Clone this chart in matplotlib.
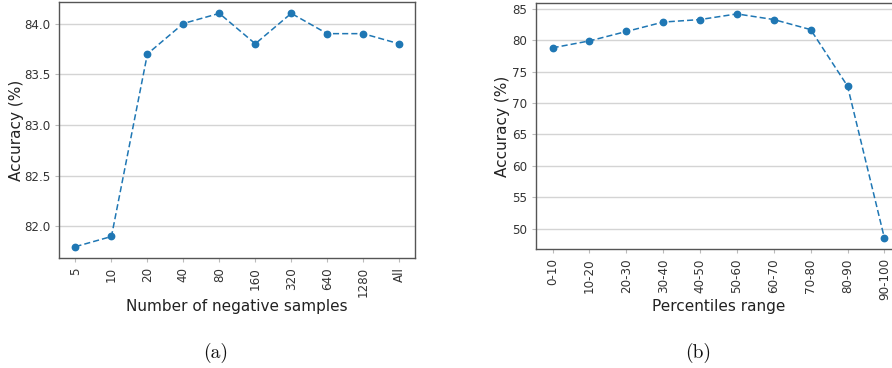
import matplotlib
matplotlib.use("Agg")
import matplotlib.pyplot as plt

neg_labels = ["5", "10", "20", "40", "80", "160", "320", "640", "1280", "All"]
neg_acc = [81.8, 81.9, 83.7, 84.0, 84.1, 83.8, 84.1, 83.9, 83.9, 83.8]

pct_labels = ["0-10", "10-20", "20-30", "30-40", "40-50", "50-60",
              "60-70", "70-80", "80-90", "90-100"]
pct_acc = [78.8, 79.9, 81.4, 82.9, 83.3, 84.2, 83.3, 81.7, 72.7, 48.5]

W, H = 892, 368
fig = plt.figure(figsize=(W / 100, H / 100), dpi=100)

def box(l, r, t, b):
    return [l / W, (H - b) / H, (r - l) / W, (b - t) / H]

ax1 = fig.add_axes(box(59.3, 415.3, 1.7, 258.3))
ax2 = fig.add_axes(box(536, 901, 2.7, 249.3))

line_col = "#1f77b4"
spine_col = "#555555"
tick_col = "#333333"

def style(ax, labels, vals, xlabel, ylabel):
    x = list(range(len(labels)))
    ax.plot(x, vals, linestyle="--", marker="o", color=line_col,
            linewidth=1.1, markersize=4.6, dashes=(4, 2))
    ax.set_xticks(x)
    ax.set_xticklabels(labels, rotation=90)
    ax.grid(axis="y", color="#d4d4d4", linewidth=1.0)
    ax.set_axisbelow(True)
    for s in ax.spines.values():
        s.set_color(spine_col)
        s.set_linewidth(1.0)
    ax.tick_params(axis="both", labelsize=8.6, colors="#bbbbbb",
                   labelcolor=tick_col, length=3, width=0.8)
    ax.set_xlabel(xlabel, fontsize=11, color="#222222")
    ax.set_ylabel(ylabel, fontsize=11, color="#222222")

style(ax1, neg_labels, neg_acc, "Number of negative samples", "Accuracy (%)")
style(ax2, pct_labels, pct_acc, "Percentiles range", "Accuracy (%)")

ax1.set_yticks([82.0, 82.5, 83.0, 83.5, 84.0])
ax1.set_yticklabels(["82.0", "82.5", "83.0", "83.5", "84.0"])
ax2.set_yticks([50, 55, 60, 65, 70, 75, 80, 85])

ax1.xaxis.set_label_coords(0.5, (H - 307) / (258.3 - 1.7) - (H - 258.3) / (258.3 - 1.7), transform=ax1.transAxes)
ax2.xaxis.set_label_coords(0.5, (H - 307) / (249.3 - 2.7) - (H - 249.3) / (249.3 - 2.7), transform=ax2.transAxes)
ax1.xaxis.label.set_va("center")
ax2.xaxis.label.set_va("center")
ax1.yaxis.set_label_coords((16 - 59.3) / (415.3 - 59.3), 0.5)
ax2.yaxis.set_label_coords((502.7 - 536) / (901 - 536), 0.5)
ax1.yaxis.label.set_va("center")
ax2.yaxis.label.set_va("center")

fig.text(216 / W, (H - 353) / H, "(a)", family="cmr10", fontsize=14,
         ha="center", va="center", color="#111111")
fig.text(698.5 / W, (H - 353) / H, "(b)", family="cmr10", fontsize=14,
         ha="center", va="center", color="#111111")

fig.savefig("out.png", dpi=100, facecolor="white")
